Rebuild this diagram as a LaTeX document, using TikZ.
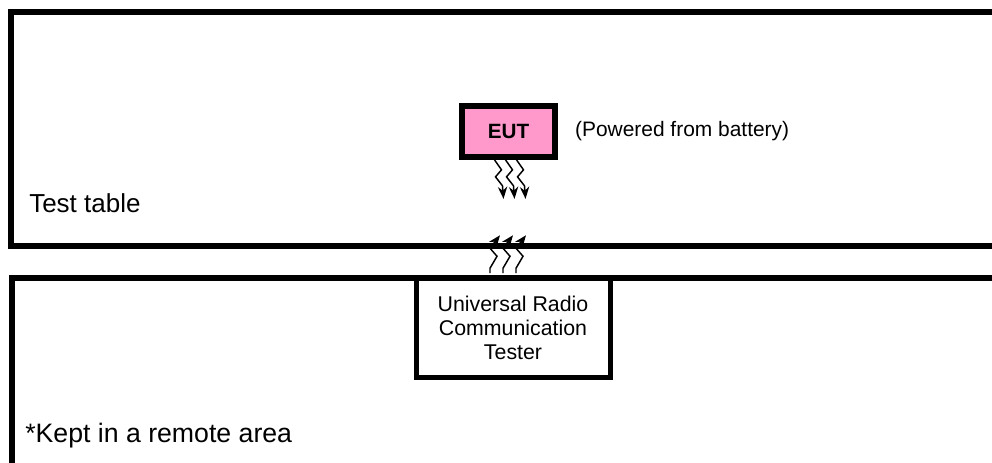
\documentclass[tikz,border=0pt]{standalone}
\usepackage{fontspec}
\setmainfont{Liberation Sans}
\usetikzlibrary{positioning,arrows.meta}
\begin{document}
\begin{tikzpicture}[x=0.75pt,y=-0.75pt,
        area/.style={line width=4.5pt},
        block/.style={draw,rectangle,inner sep=0pt,align=center},
        label/.style={inner sep=0pt,anchor=base west,font=\fontsize{19.5}{22}\selectfont},
        wave/.style={line width=1.1pt,-{Stealth[length=9pt,width=7pt]}}]
   \useasboundingbox (0,0) rectangle (992,463);
   \clip (0,0) rectangle (992,463);

   % table and remote area
   \draw[area] (1000,12.5) -| (11,246.5) -- (1000,246.5);
   \draw[area] (1000,278.5) -| (12,480);
   \node (table) [label] at (29,213) {Test table};
   \node (remote) [label,font=\fontsize{20}{22}\selectfont] at (25,442) {*Kept in a remote area};

   \node (eut) [block,fill={rgb,255:red,255;green,153;blue,204},line width=4.5pt,
        minimum width=70pt,minimum height=38pt,
        font=\fontsize{15.5}{18}\selectfont\bfseries] at (508.5,131.5) {EUT};
   \node (power) [right=12.5pt of eut,inner sep=0pt,font=\fontsize{15.7}{18}\selectfont] {(Powered from battery)};

   \node (tester) [block,line width=3.75pt,minimum width=145.5pt,minimum height=74pt,
        font=\fontsize{16}{18}\selectfont] at (513,327.75)
        {Universal Radio\\Communication\\Tester};

   % radio links
   \foreach \dx in {-14,-3,8}
      \draw[wave] ([xshift=\dx*0.75pt]eut.south) -- ++(7,10) -- ++(-6,7) -- ++(7,9) -- ++(1,13);
   \foreach \dx in {-23,-10,3}
      \draw[wave] ([xshift=\dx*0.75pt,yshift=2pt]tester.north) -- ++(0,-5) -- ++(7,-12) -- ++(-7,-8) -- ++(10,-13);
\end{tikzpicture}
\end{document}
